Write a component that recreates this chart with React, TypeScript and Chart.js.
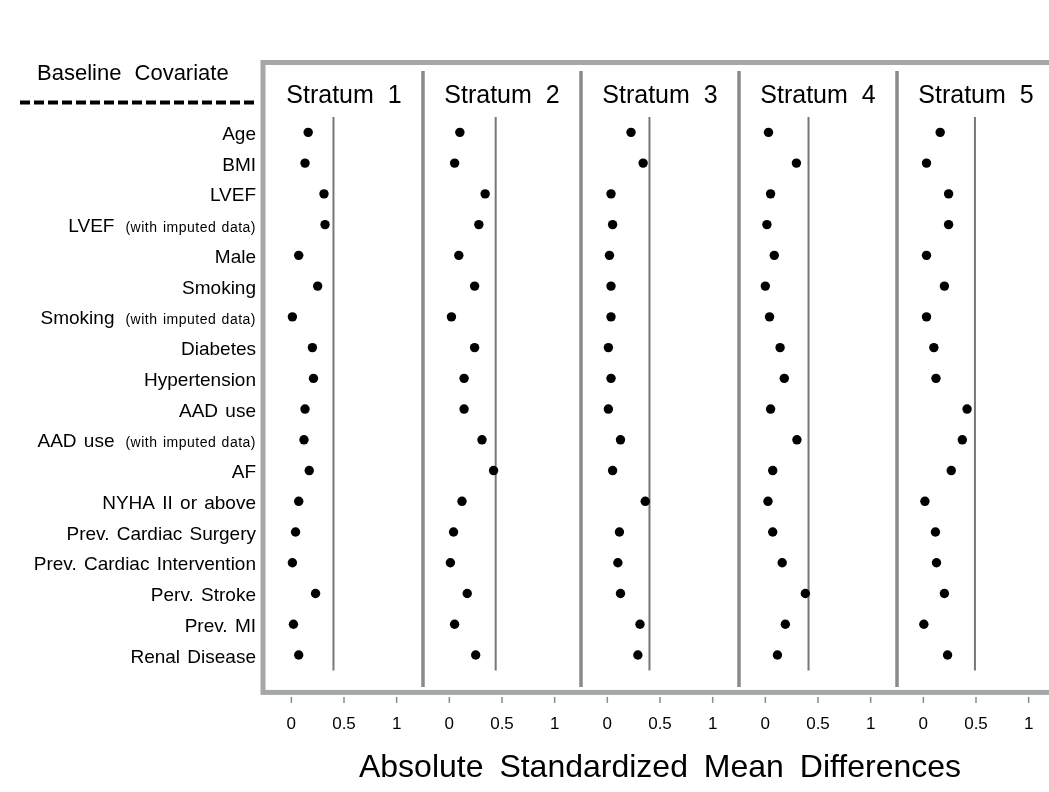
import React, { useEffect, useRef } from 'react';
import { Chart, registerables } from 'chart.js';

Chart.register(...registerables);

// ---------------- data ----------------
const covariates = [
  'Age',
  'BMI',
  'LVEF',
  'LVEF (with imputed data)',
  'Male',
  'Smoking',
  'Smoking (with imputed data)',
  'Diabetes',
  'Hypertension',
  'AAD use',
  'AAD use (with imputed data)',
  'AF',
  'NYHA II or above',
  'Prev. Cardiac Surgery',
  'Prev. Cardiac Intervention',
  'Perv. Stroke',
  'Prev. MI',
  'Renal Disease',
];

const strata = ['Stratum 1', 'Stratum 2', 'Stratum 3', 'Stratum 4', 'Stratum 5'];

const stratum1 = [0.16, 0.13, 0.31, 0.32, 0.07, 0.25, 0.01, 0.2, 0.21, 0.13, 0.12, 0.17, 0.07, 0.04, 0.01, 0.23, 0.02, 0.07];
const stratum2 = [0.1, 0.05, 0.34, 0.28, 0.09, 0.24, 0.02, 0.24, 0.14, 0.14, 0.31, 0.42, 0.12, 0.04, 0.01, 0.17, 0.05, 0.25];
const stratum3 = [0.225, 0.34, 0.035, 0.05, 0.02, 0.035, 0.035, 0.01, 0.035, 0.01, 0.125, 0.05, 0.36, 0.115, 0.1, 0.125, 0.31, 0.29];
const stratum4 = [0.03, 0.295, 0.05, 0.015, 0.085, 0.0, 0.04, 0.14, 0.18, 0.05, 0.3, 0.07, 0.025, 0.07, 0.16, 0.38, 0.19, 0.115];
const stratum5 = [0.16, 0.03, 0.24, 0.24, 0.03, 0.2, 0.03, 0.1, 0.12, 0.415, 0.37, 0.265, 0.015, 0.115, 0.125, 0.2, 0.005, 0.23];

const referenceLines = [0.4, 0.44, 0.4, 0.41, 0.49];
const tickValues = [0, 0.5, 1];
const xMin = -0.25;
const xMax = 1.25;

const headerText = 'Baseline Covariate';
const xTitleText = 'Absolute Standardized Mean Differences';

const FONT = "'Liberation Sans', Arial, Helvetica, sans-serif";

// ---------------- decoration plugin ----------------
const decorPlugin = {
  id: 'decor',
  beforeDraw(chart: any) {
    chart.ctx.wordSpacing = '7px';
  },
  beforeDatasetsDraw(chart: any) {
    const { ctx, chartArea } = chart;
    const xs = strata.map((_, i) => chart.scales['x' + i]);
    const line = (x1: number, y1: number, x2: number, y2: number) => {
      ctx.beginPath();
      ctx.moveTo(x1, y1);
      ctx.lineTo(x2, y2);
      ctx.stroke();
    };
    ctx.save();
    // outer frame
    ctx.strokeStyle = '#a4a8a8';
    ctx.lineWidth = 5;
    const fl = chartArea.left - 2;
    const ft = 62.5;
    const fb = chartArea.bottom + 22;
    const fr = chartArea.right + 4;
    ctx.strokeRect(fl, ft, fr - fl, fb - ft);
    // panel separators
    ctx.strokeStyle = '#8a8a8a';
    ctx.lineWidth = 3.5;
    for (let i = 0; i < xs.length - 1; i++) {
      const x = xs[i].right;
      line(x, 71, x, chartArea.bottom + 16.5);
    }
    // reference lines
    ctx.strokeStyle = '#777777';
    ctx.lineWidth = 2;
    xs.forEach((s: any, i: number) => {
      const x = s.getPixelForValue(referenceLines[i]);
      line(x, chartArea.top, x, chartArea.bottom);
    });
    // tick marks below the frame
    ctx.strokeStyle = '#8a8a8a';
    ctx.lineWidth = 1.5;
    xs.forEach((s: any) => {
      s.ticks.forEach((t: any) => {
        const x = s.getPixelForValue(t.value);
        line(x, chartArea.bottom + 26.5, x, chartArea.bottom + 32.5);
      });
    });
    ctx.restore();
  },
  afterDraw(chart: any) {
    const { ctx, chartArea } = chart;
    const yScale = chart.scales.y;
    ctx.save();
    ctx.fillStyle = '#000';
    ctx.textBaseline = 'alphabetic';
    // covariate labels
    const xr = chartArea.left - 9;
    covariates.forEach((label, i) => {
      const py = yScale.getPixelForValue(i) + 7.5;
      const k = label.indexOf(' (');
      let main = label;
      let note = '';
      if (k >= 0) {
        main = label.slice(0, k);
        note = label.slice(k + 1);
      }
      let x = xr;
      ctx.textAlign = 'right';
      if (note) {
        ctx.font = `14px ${FONT}`;
        ctx.wordSpacing = '1px';
        ctx.letterSpacing = '0.5px';
        ctx.fillText(note, x, py);
        x -= ctx.measureText(note).width + 11;
        ctx.letterSpacing = '0px';
      }
      ctx.font = `19px ${FONT}`;
      ctx.wordSpacing = '2px';
      ctx.fillText(main, x, py);
    });
    // header
    ctx.textAlign = 'left';
    ctx.font = `22px ${FONT}`;
    ctx.wordSpacing = '7px';
    ctx.fillText(headerText, 37, 80);
    // dashed rule under header
    ctx.strokeStyle = '#000';
    ctx.lineWidth = 4;
    ctx.setLineDash([10, 4]);
    ctx.beginPath();
    ctx.moveTo(20, 102.5);
    ctx.lineTo(257, 102.5);
    ctx.stroke();
    ctx.restore();
  },
};

export default function App() {
  const canvasRef = useRef<HTMLCanvasElement | null>(null);

  useEffect(() => {
    const canvas = canvasRef.current;
    if (!canvas) return;
    Chart.defaults.font.family = FONT;
    Chart.defaults.color = '#000';

    const series = [stratum1, stratum2, stratum3, stratum4, stratum5];

    const scales: any = {
      y: {
        type: 'category',
        labels: covariates,
        offset: true,
        position: 'left',
        grid: { display: false, drawTicks: false },
        border: { display: false },
        ticks: { display: false },
      },
    };
    strata.forEach((name, i) => {
      scales['x' + i] = {
        type: 'linear',
        position: 'bottom',
        stack: 'panels',
        stackWeight: 1,
        min: xMin,
        max: xMax,
        afterBuildTicks: (s: any) => {
          s.ticks = tickValues.map((v) => ({ value: v }));
        },
        afterFit: (s: any) => {
          s.height = 78.6;
        },
        // tick marks themselves are drawn by the plugin below the frame;
        // tickLength only offsets the labels
        grid: { display: false, drawTicks: true, tickLength: 44 },
        border: { display: false },
        ticks: {
          padding: 0,
          font: { size: 17 },
          color: '#000',
          maxRotation: 0,
          autoSkip: false,
          callback: (v: any) => String(v),
        },
      };
      scales['t' + i] = {
        type: 'linear',
        position: 'top',
        stack: 'titles',
        stackWeight: 1,
        weight: strata.length - i,
        min: xMin,
        max: xMax,
        grid: { display: false, drawTicks: false },
        border: { display: false },
        ticks: { display: false },
        title: {
          display: true,
          text: name,
          font: { size: 25 },
          color: '#000',
          padding: { top: 0, bottom: 6 },
        },
      };
    });

    const chart = new Chart(canvas, {
      type: 'scatter',
      data: {
        datasets: series.map((vals, i) => ({
          label: strata[i],
          xAxisID: 'x' + i,
          yAxisID: 'y',
          data: vals.map((v, j) => ({ x: v, y: covariates[j] })),
          pointRadius: 4.7,
          pointHoverRadius: 4.7,
          pointBackgroundColor: '#000',
          pointBorderColor: '#000',
          pointBorderWidth: 0,
          showLine: false,
        })) as any,
      },
      options: {
        responsive: false,
        animation: false,
        devicePixelRatio: 1,
        events: [],
        layout: { padding: { left: 265, right: 5, top: 81, bottom: 4.6 } },
        plugins: {
          legend: { display: false },
          tooltip: { enabled: false },
          title: {
            display: true,
            text: xTitleText,
            position: 'bottom',
            font: { size: 32, weight: 'normal' },
            color: '#000',
            padding: 0,
          },
        },
        scales,
      } as any,
      plugins: [decorPlugin],
    });

    return () => {
      chart.destroy();
    };
  }, []);

  return (
    <div
      style={{
        position: 'absolute',
        left: 0,
        top: 0,
        width: 1049,
        height: 792,
        overflow: 'hidden',
        background: '#fff',
      }}
    >
      <canvas ref={canvasRef} width={1060} height={792} style={{ display: 'block' }} />
    </div>
  );
}
